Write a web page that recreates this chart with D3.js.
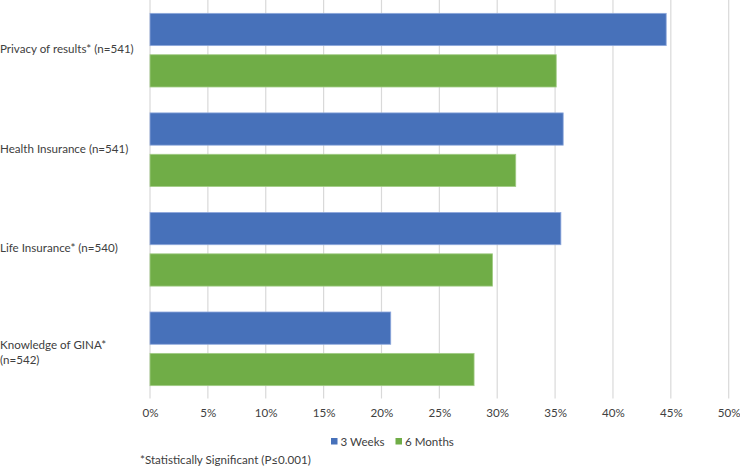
<!DOCTYPE html>
<html>
<head>
<meta charset="utf-8">
<script src="https://cdn.jsdelivr.net/npm/d3@7"></script>
<style>
  html, body { margin: 0; padding: 0; background: #fff; }
  svg { display: block; }
  text { font-family: Lato, "Noto Sans", sans-serif; fill: #404040; }
</style>
</head>
<body>
<svg id="chart" width="740" height="466"></svg>
<script>
const categories = ["Privacy of results* (n=541)", "Health Insurance (n=541)", "Life Insurance* (n=540)", "Knowledge of GINA* (n=542)"];
const categoryLines = [["Privacy of results* (n=541)"], ["Health Insurance (n=541)"], ["Life Insurance* (n=540)"], ["Knowledge of GINA*", "(n=542)"]];
const seriesNames = ["3 Weeks", "6 Months"];
const weeks3 = [44.6, 35.7, 35.5, 20.8];
const months6 = [35.1, 31.6, 29.6, 28.0];
const xTicks = [0, 5, 10, 15, 20, 25, 30, 35, 40, 45, 50];
const colors = ["#4771BA", "#70AD47"];
const footnote = "*Statistically Significant (P\u22640.001)";

const svg = d3.select("#chart");
const plotLeft = 150, plotRight = 728.7, plotTop = 0.4, plotBottom = 398.6;
const fs = 11.6;

const x = d3.scaleLinear().domain([0, 50]).range([plotLeft, plotRight]);
const y = d3.scaleBand().domain(categories).range([plotTop, plotBottom]).paddingInner(0.26).paddingOuter(0.13);
const ySub = d3.scaleBand().domain(seriesNames).range([0, y.bandwidth()]).paddingInner(0.22);

// gridlines
svg.append("g").selectAll("line").data(xTicks).join("line")
  .attr("x1", d => x(d)).attr("x2", d => x(d))
  .attr("y1", 0).attr("y2", plotBottom)
  .attr("stroke", "#d9d9d9").attr("stroke-width", 1.2);

// bars
const data = categories.map((c, i) => ({ cat: c, vals: [weeks3[i], months6[i]] }));
const groups = svg.append("g").selectAll("g").data(data).join("g")
  .attr("transform", d => `translate(0,${y(d.cat)})`);
groups.selectAll("rect").data(d => d.vals.map((v, j) => ({ s: seriesNames[j], v, j })))
  .join("rect")
  .attr("x", x(0))
  .attr("y", d => ySub(d.s))
  .attr("width", d => x(d.v) - x(0))
  .attr("height", ySub.bandwidth())
  .attr("fill", d => colors[d.j])
  .attr("stroke", d => d.j === 0 ? "#8fa9dc" : "#a3cc87")
  .attr("stroke-width", 0.8);

// x axis tick labels
const xAxis = d3.axisBottom(x).tickValues(xTicks).tickFormat(d => d + "%").tickSize(0).tickPadding(0);
const gx = svg.append("g").attr("transform", `translate(0,${408.5})`).call(xAxis);
gx.select(".domain").remove();
gx.selectAll("text").attr("font-family", "Lato, sans-serif").attr("font-size", fs).attr("fill", "#404040").attr("dy", "0.71em");

// category labels
const lab = svg.append("g").selectAll("text").data(categories).join("text")
  .attr("x", 0)
  .attr("font-size", fs);
lab.each(function(d, i) {
  const lines = categoryLines[i];
  const cy = y(d) + y.bandwidth() / 2 + (lines.length > 1 ? 4 : -1);
  const lh = 15;
  const t = d3.select(this);
  lines.forEach((ln, k) => {
    t.append("tspan").attr("x", 0)
      .attr("y", cy + (k - (lines.length - 1) / 2) * lh)
      .attr("dy", "0.35em").text(ln);
  });
});

// legend
const leg = svg.append("g");
const legX = [331, 395.5];
seriesNames.forEach((s, i) => {
  leg.append("rect").attr("x", legX[i]).attr("y", 438).attr("width", 6.5).attr("height", 6.5).attr("fill", colors[i]);
  leg.append("text").attr("x", legX[i] + 9.5).attr("y", 441.5).attr("dy", "0.35em").attr("font-size", fs).text(s);
});

// footnote
svg.append("text").attr("x", 140).attr("y", 459.5).attr("dy", "0.35em").attr("font-size", fs).text(footnote);
</script>
</body>
</html>
